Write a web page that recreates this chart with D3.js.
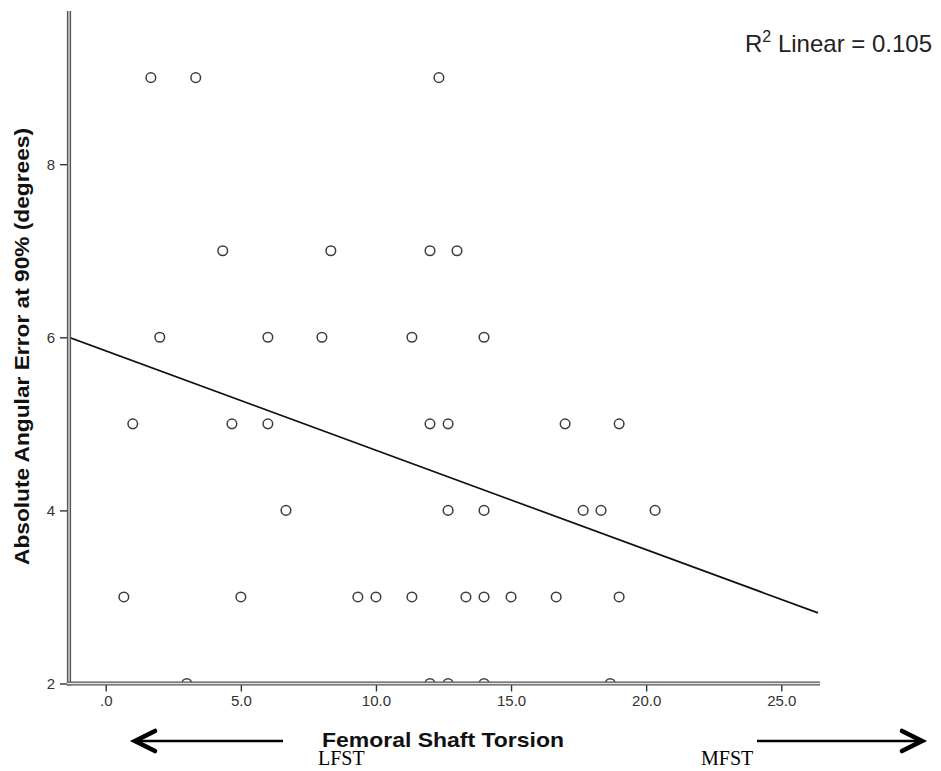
<!DOCTYPE html>
<html>
<head>
<meta charset="utf-8">
<script src="https://cdn.jsdelivr.net/npm/d3@7"></script>
<style>
  html, body { margin: 0; padding: 0; background: #ffffff; }
  svg { display: block; }
</style>
</head>
<body>
<svg id="chart" width="941" height="771"></svg>
<script>
// ---- data ----
const torsion = [
  1.67, 3.33, 12.33,
  4.33, 8.33, 12.0, 13.0,
  2.0, 6.0, 8.0, 11.33, 14.0,
  1.0, 4.67, 6.0, 12.0, 12.67, 17.0, 19.0,
  6.67, 12.67, 14.0, 17.67, 18.33, 20.33,
  0.67, 5.0, 9.33, 10.0, 11.33, 13.33, 14.0, 15.0, 16.67, 19.0,
  3.0, 12.0, 12.67, 14.0, 18.67
];
const angularError = [
  9, 9, 9,
  7, 7, 7, 7,
  6, 6, 6, 6, 6,
  5, 5, 5, 5, 5, 5, 5,
  4, 4, 4, 4, 4, 4,
  3, 3, 3, 3, 3, 3, 3, 3, 3, 3,
  2, 2, 2, 2, 2
];
const xDomain = [-1.36, 26.36];
const yDomain = [2, 9.77];
const xTickValues = [0, 5, 10, 15, 20, 25];
const xTickLabels = [".0", "5.0", "10.0", "15.0", "20.0", "25.0"];
const yTickValues = [2, 4, 6, 8];
const yTickLabels = ["2", "4", "6", "8"];
const xTitle = "Femoral Shaft Torsion";
const yTitle = "Absolute Angular Error at 90% (degrees)";
const leftNote = "LFST";
const rightNote = "MFST";

// ---- layout ----
const svg = d3.select("#chart");
const plot = { left: 69, right: 818, top: 11, bottom: 683.5 };

const x = d3.scaleLinear().domain(xDomain).range([plot.left, plot.right]);
const y = d3.scaleLinear().domain(yDomain).range([plot.bottom, plot.top]);

const points = torsion.map((t, i) => ({ x: t, y: angularError[i] }));

// least squares fit
const mx = d3.mean(points, d => d.x), my = d3.mean(points, d => d.y);
const sxy = d3.sum(points, d => (d.x - mx) * (d.y - my));
const sxx = d3.sum(points, d => (d.x - mx) ** 2);
const syy = d3.sum(points, d => (d.y - my) ** 2);
const slope = sxy / sxx;
const intercept = my - slope * mx;
const r2 = (sxy * sxy) / (sxx * syy);

// clip
svg.append("defs").append("clipPath").attr("id", "plotClip")
  .append("rect")
  .attr("x", plot.left).attr("y", plot.top - 10)
  .attr("width", plot.right - plot.left + 10)
  .attr("height", plot.bottom - plot.top + 10);

const g = svg.append("g").attr("clip-path", "url(#plotClip)");

// regression line
const fit = d3.line().x(d => x(d)).y(d => y(intercept + slope * d));
g.append("path")
  .datum(xDomain)
  .attr("d", fit)
  .attr("fill", "none")
  .attr("stroke", "#111")
  .attr("stroke-width", 1.7);

// points
g.selectAll("circle.pt")
  .data(points)
  .join("circle")
  .attr("class", "pt")
  .attr("cx", d => x(d.x))
  .attr("cy", d => y(d.y))
  .attr("r", 4.8)
  .attr("fill", "none")
  .attr("stroke", "#3c3c3c")
  .attr("stroke-width", 1.5);

// axes
const xAxis = d3.axisBottom(x)
  .tickValues(xTickValues)
  .tickFormat((d, i) => xTickLabels[i])
  .tickSize(8)
  .tickPadding(4);
const gx = svg.append("g")
  .attr("transform", `translate(0,${plot.bottom})`)
  .call(xAxis);
gx.select(".domain").remove();
gx.selectAll(".tick line").attr("stroke", "#333").attr("stroke-width", 1.4);
gx.selectAll(".tick text")
  .attr("fill", "#333")
  .style("font-family", "'Liberation Sans', Arial, sans-serif")
  .style("font-size", "15px");

const yAxis = d3.axisLeft(y)
  .tickValues(yTickValues)
  .tickFormat((d, i) => yTickLabels[i])
  .tickSize(9)
  .tickPadding(5);
const gy = svg.append("g")
  .attr("transform", `translate(${plot.left},0)`)
  .call(yAxis);
gy.select(".domain").remove();
gy.selectAll(".tick line").attr("stroke", "#333").attr("stroke-width", 1.4);
gy.selectAll(".tick text")
  .attr("fill", "#333")
  .style("font-family", "'Liberation Sans', Arial, sans-serif")
  .style("font-size", "15px");

// double axis lines
function doubleLine(x1, y1, x2, y2) {
  svg.append("line").attr("x1", x1).attr("y1", y1).attr("x2", x2).attr("y2", y2)
    .attr("stroke", "#555").attr("stroke-width", 4.2);
  svg.append("line").attr("x1", x1).attr("y1", y1).attr("x2", x2).attr("y2", y2)
    .attr("stroke", "#e6e6e6").attr("stroke-width", 1.3);
}
doubleLine(plot.left, plot.top, plot.left, plot.bottom + 2.1);
doubleLine(plot.left - 2.1, plot.bottom, plot.right + 2, plot.bottom);

// axis titles
svg.append("text")
  .attr("transform", `translate(29,${(128 + 565) / 2}) rotate(-90)`)
  .attr("text-anchor", "middle")
  .attr("textLength", 437)
  .attr("lengthAdjust", "spacingAndGlyphs")
  .style("font-family", "'Liberation Sans', Arial, sans-serif")
  .style("font-weight", "bold")
  .style("font-size", "20px")
  .attr("fill", "#111")
  .text(yTitle);

svg.append("text")
  .attr("x", 322).attr("y", 747)
  .attr("textLength", 242)
  .attr("lengthAdjust", "spacingAndGlyphs")
  .style("font-family", "'Liberation Sans', Arial, sans-serif")
  .style("font-weight", "bold")
  .style("font-size", "20.5px")
  .attr("fill", "#111")
  .text(xTitle);

// LFST / MFST notes
svg.append("text")
  .attr("x", 318).attr("y", 765)
  .style("font-family", "'Liberation Serif', 'Times New Roman', serif")
  .style("font-size", "20px")
  .attr("fill", "#000")
  .text(leftNote);
svg.append("text")
  .attr("x", 701).attr("y", 765)
  .style("font-family", "'Liberation Serif', 'Times New Roman', serif")
  .style("font-size", "20px")
  .attr("fill", "#000")
  .text(rightNote);

// arrows
function arrow(tailX, tipX, yy) {
  const dir = tipX > tailX ? 1 : -1;
  svg.append("line")
    .attr("x1", tailX).attr("y1", yy).attr("x2", tipX - dir * 1).attr("y2", yy)
    .attr("stroke", "#000").attr("stroke-width", 2.6);
  svg.append("path")
    .attr("d", `M${tipX - dir * 20},${yy - 10} L${tipX},${yy} L${tipX - dir * 20},${yy + 10}`)
    .attr("fill", "none")
    .attr("stroke", "#000")
    .attr("stroke-width", 4.6)
    .attr("stroke-linecap", "round")
    .attr("stroke-linejoin", "miter");
}
arrow(283, 135, 741);
arrow(757, 922, 741);

// R² annotation
const r2Text = svg.append("text")
  .attr("x", 745).attr("y", 52)
  .style("font-family", "'Liberation Sans', Arial, sans-serif")
  .style("font-size", "24px")
  .attr("fill", "#222");
r2Text.append("tspan").text("R");
r2Text.append("tspan").attr("dy", -10).style("font-size", "16px").text("2");
r2Text.append("tspan").attr("dy", 10).text(" Linear = " + d3.format(".3f")(r2));
</script>
</body>
</html>
